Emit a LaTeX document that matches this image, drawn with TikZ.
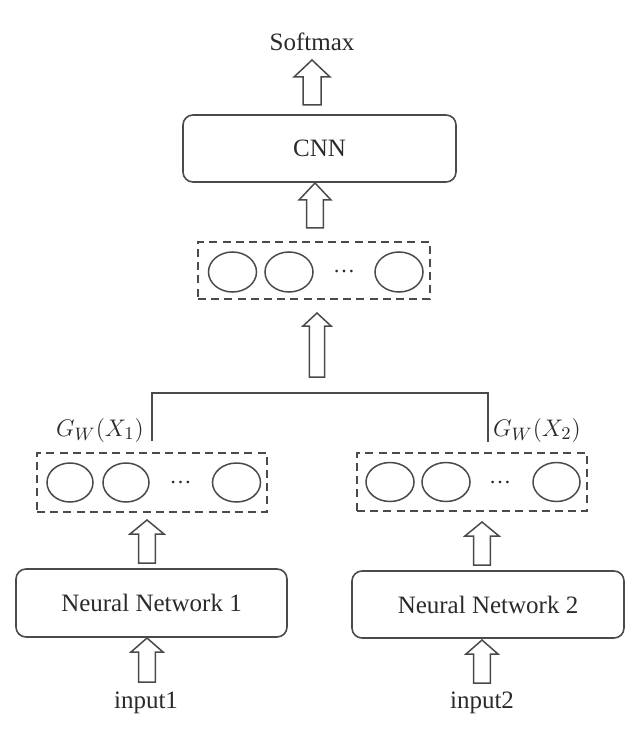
\documentclass[tikz,border=0pt]{standalone}
\usepackage{fontspec}
\setmainfont{Liberation Serif}
\usetikzlibrary{shapes.geometric,calc}
\definecolor{ln}{HTML}{4A4A4A}
\definecolor{tx}{HTML}{2A2A2A}
\tikzset{
  lbl/.style={text=tx,font=\fontsize{12.5}{14}\selectfont,inner sep=0pt},
  rbox/.style={draw=ln,line width=0.8pt,rounded corners=5pt,inner sep=0pt,text=tx,font=\fontsize{12.5}{14}\selectfont},
  dbox/.style={draw=ln,line width=0.9pt,dash pattern=on 4pt off 2.6pt,inner sep=0pt},
  unit/.style={ellipse,draw=ln,line width=0.75pt,minimum width=24pt,minimum height=20pt,inner sep=0pt},
  dots/.style={text=tx,inner sep=0pt,font=\fontsize{11}{13}\selectfont},
  arr/.style={draw=ln,line width=0.75pt,fill=white,line join=miter},
  conn/.style={draw=ln,line width=0.75pt}
}
% #1 bottom, #2 tip, #3 half shaft, #4 half head, #5 head length
\newcommand\hollowup[5]{\path[arr] let \p1=#1, \p2=#2 in
  (\x1-#3,\y1) -- (\x1-#3,\y2-#5) -- (\x1-#4,\y2-#5) -- (\x1,\y2) --
  (\x1+#4,\y2-#5) -- (\x1+#3,\y2-#5) -- (\x1+#3,\y1) -- cycle;}
\begin{document}
\begin{tikzpicture}[x=0.5pt,y=-0.5pt]
\useasboundingbox (0,0) rectangle (642,732);
% top
\node[lbl] (softmax) at (312,42) {Softmax};
\node[rbox,minimum width=136.5pt,minimum height=33.5pt] (cnn) at (319.5,148.5) {CNN};
% middle layer
\node[dbox,minimum width=116pt,minimum height=28.5pt] (mid) at (314,270.5) {};
\node[unit] (m1) at (232.5,272) {};
\node[unit] (m2) at (289,272) {};
\node[dots] (md) at (344,272) {…};
\node[unit] (m3) at (399,272) {};
% left branch
\node[dbox,minimum width=115pt,minimum height=29.5pt] (lb) at (152,482.5) {};
\node[unit,minimum width=23pt,minimum height=19.5pt] (l1) at (70,482.5) {};
\node[unit,minimum width=23pt,minimum height=19.5pt] (l2) at (126,482.5) {};
\node[dots] (ld) at (180.5,483) {…};
\node[unit,minimum width=24pt,minimum height=19.5pt] (l3) at (236.5,482.5) {};
\node[lbl] (g1) at (100,430) {$G_W(X_1)$};
\node[rbox,minimum width=135.5pt,minimum height=34pt] (nn1) at (151.5,603) {Neural Network 1};
\node[lbl] (in1) at (146,703) {input1};
% right branch
\node[dbox,minimum width=115pt,minimum height=29pt] (rb) at (472,482) {};
\node[unit,minimum width=24pt,minimum height=19.5pt] (r1) at (390,482) {};
\node[unit,minimum width=24pt,minimum height=19.5pt] (r2) at (446,482) {};
\node[dots] (rd) at (500,482.5) {…};
\node[unit,minimum width=23.5pt,minimum height=19.5pt] (r3) at (556.5,482) {};
\node[lbl] (g2) at (537,430) {$G_W(X_2)$};
\node[rbox,minimum width=136pt,minimum height=33.5pt] (nn2) at (488,604.5) {Neural Network 2};
\node[lbl] (in2) at (482,703) {input2};
% merge connector
\coordinate (jl) at (lb.north -| 152,0);
\coordinate (jr) at (rb.north -| 488,0);
\draw[conn] ($(jl)+(0,-11)$) -- (152,393) -- (488,393) -- ($(jr)+(0,-10)$);
% block arrows
\coordinate (a1b) at (312,105); \coordinate (a1t) at (312,60);
\coordinate (a2b) at (315,228); \coordinate (a2t) at (315,183);
\coordinate (a3b) at (317,377); \coordinate (a3t) at (317,313);
\coordinate (a4b) at (147,563); \coordinate (a4t) at (147,520);
\coordinate (a5b) at (482,565); \coordinate (a5t) at (482,522);
\coordinate (a6b) at (147,682); \coordinate (a6t) at (147,638);
\coordinate (a7b) at (482,683); \coordinate (a7t) at (482,640);
\hollowup{(a1b)}{(a1t)}{4.5pt}{9pt}{8.5pt}
\hollowup{(a2b)}{(a2t)}{4.2pt}{8pt}{8.5pt}
\hollowup{(a3b)}{(a3t)}{3.8pt}{7pt}{6.5pt}
\hollowup{(a4b)}{(a4t)}{4.2pt}{8.5pt}{7pt}
\hollowup{(a5b)}{(a5t)}{4.2pt}{8.5pt}{7pt}
\hollowup{(a6b)}{(a6t)}{4.2pt}{8pt}{7pt}
\hollowup{(a7b)}{(a7t)}{4.2pt}{8pt}{7pt}
\end{tikzpicture}
\end{document}
